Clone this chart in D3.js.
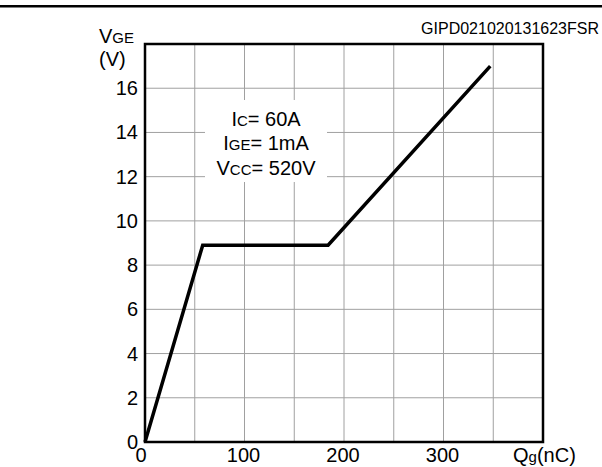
<!DOCTYPE html>
<html><head><meta charset="utf-8">
<script src="https://cdn.jsdelivr.net/npm/d3@7"></script>
<style>body{margin:0;background:#fff}svg{display:block;font-family:"Liberation Sans",Arial,sans-serif}</style>
</head><body>
<svg id="c" width="602" height="467"></svg>
<script>
const qg = [0, 58, 184, 347];          // Qg (nC)
const vge = [0, 8.9, 8.9, 17];         // VGE (V)
const xTicks = [0, 100, 200, 300];
const yTicks = [0, 2, 4, 6, 8, 10, 12, 14, 16];
const xGrid = [50, 100, 150, 200, 250, 300, 350];
const yGrid = [2, 4, 6, 8, 10, 12, 14, 16];

const svg = d3.select("#c");
const L = 145, R = 543, T = 44, B = 442;
const x = d3.scaleLinear().domain([0, 400]).range([L, R]);
const y = d3.scaleLinear().domain([0, 18]).range([B, T]);

// top rule
svg.append("rect").attr("x", 0).attr("y", 5).attr("width", 602).attr("height", 2.5).attr("fill", "#000");

// grid
svg.append("g").selectAll("line").data(xGrid).join("line")
  .attr("x1", d => x(d)).attr("x2", d => x(d)).attr("y1", T).attr("y2", B)
  .attr("stroke", "#a0a0a0").attr("stroke-width", 1);
svg.append("g").selectAll("line").data(yGrid).join("line")
  .attr("y1", d => y(d)).attr("y2", d => y(d)).attr("x1", L).attr("x2", R)
  .attr("stroke", "#a0a0a0").attr("stroke-width", 1);

// annotation background
svg.append("rect").attr("x", 205).attr("y", 100).attr("width", 122).attr("height", 82).attr("fill", "#fff");
const ann = svg.append("g").attr("font-size", 20).attr("text-anchor", "middle").attr("fill", "#000");
const a1 = ann.append("text").attr("x", 266).attr("y", 126);
a1.append("tspan").text("I"); a1.append("tspan").attr("font-size", 15).text("C"); a1.append("tspan").text("= 60A");
const a2 = ann.append("text").attr("x", 266).attr("y", 150);
a2.append("tspan").text("I"); a2.append("tspan").attr("font-size", 15).text("GE"); a2.append("tspan").text("= 1mA");
const a3 = ann.append("text").attr("x", 266).attr("y", 175);
a3.append("tspan").text("V"); a3.append("tspan").attr("font-size", 15).text("CC"); a3.append("tspan").text("= 520V");

// frame
svg.append("rect").attr("x", L).attr("y", T).attr("width", R - L).attr("height", B - T)
  .attr("fill", "none").attr("stroke", "#000").attr("stroke-width", 2.5);

// curve
const pts = qg.map((d, i) => [d, vge[i]]);
svg.append("path").datum(pts)
  .attr("d", d3.line().x(d => x(d[0])).y(d => y(d[1])))
  .attr("fill", "none").attr("stroke", "#000").attr("stroke-width", 3.5).attr("stroke-linejoin", "miter");

// tick labels
svg.append("g").attr("font-size", 20).attr("text-anchor", "end")
  .selectAll("text").data(yTicks).join("text")
  .attr("x", 138).attr("y", d => y(d) + 7).text(d => d);
svg.append("g").attr("font-size", 20).attr("text-anchor", "middle")
  .selectAll("text").data(xTicks).join("text")
  .attr("x", d => d === 0 ? x(d) - 4 : x(d) - 1).attr("y", 462).text(d => d);

// axis titles
const vt = svg.append("text").attr("x", 99).attr("y", 43).attr("font-size", 20);
vt.append("tspan").text("V"); vt.append("tspan").attr("font-size", 15).text("GE");
svg.append("text").attr("x", 99).attr("y", 66).attr("font-size", 20).text("(V)");
const qt = svg.append("text").attr("x", 513).attr("y", 462).attr("font-size", 20);
qt.append("tspan").text("Q"); qt.append("tspan").attr("font-size", 15).text("g"); qt.append("tspan").text("(nC)");

svg.append("text").attr("x", 599).attr("y", 34).attr("font-size", 16).attr("text-anchor", "end").text("GIPD021020131623FSR");
</script>
</body></html>
